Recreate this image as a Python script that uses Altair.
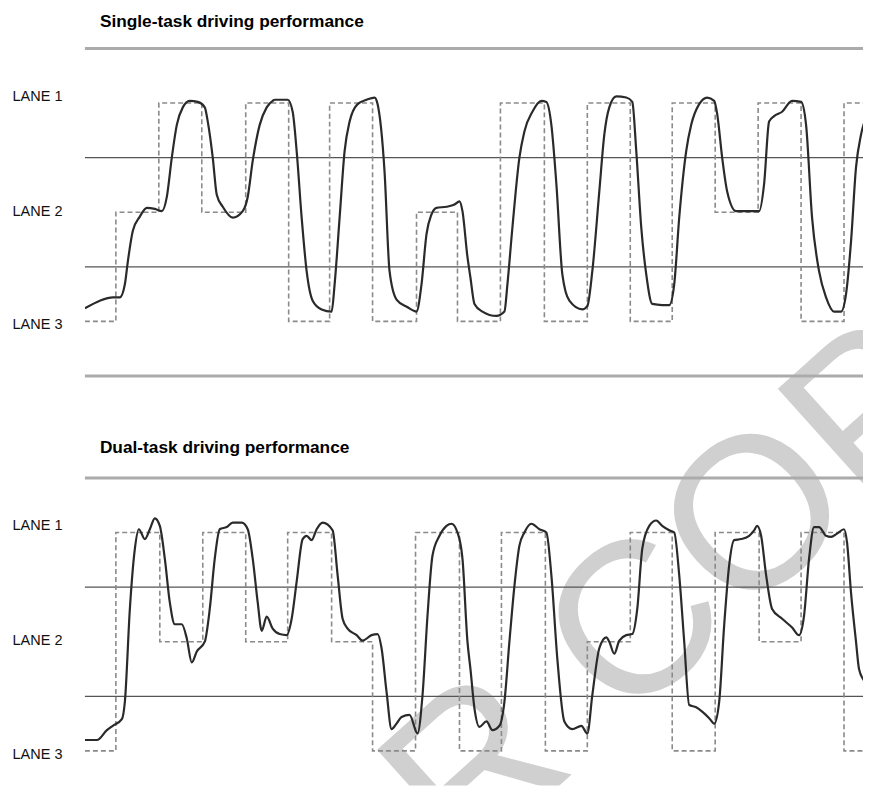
import json
import altair as alt
import pandas as pd

FONT = "Liberation Sans"

# ---- lanes / road layout (lane position units: 1 = Lane 1 ... 3 = Lane 3) ----
LANE_VALUES = [1, 2, 3]
LANE_LABELS = ["LANE 1", "LANE 2", "LANE 3"]
ROAD_EDGES = [0.5, 3.5]
LANE_DIVIDERS = [1.5, 2.5]
TITLES = ["Single-task driving performance", "Dual-task driving performance"]
WATERMARK = "AUTHOR COPY"

# ---- Single task: required lane (dashed), segment start times ----
single_target_t = [0, 31, 74, 117, 161, 204, 245, 288, 332, 373, 416, 460, 503, 546, 588, 631, 674, 717, 760, 788]
single_target_lane = [3, 2, 1, 2, 1, 3, 1, 3, 2, 3, 1, 3, 1, 3, 1, 2, 1, 3, 1, 1]

# ---- Single task: actual lateral position (solid) ----
single_t = [0, 15, 28, 35, 40, 43, 48, 55, 62, 70, 77, 82, 87, 92, 98, 105, 113, 120, 123, 128,
            132, 138, 148, 158, 163, 168, 175, 182, 188, 190, 203, 208, 212, 217, 222, 228, 237, 247, 250, 255,
            260, 265, 273, 282, 290, 293, 300, 305, 312, 323, 332, 337, 342, 347, 352, 362, 370, 375, 378, 383,
            386, 390, 398, 412, 420, 423, 428, 435, 440, 448, 457, 462, 467, 472, 478, 485, 498, 503, 508, 515,
            520, 525, 532, 542, 548, 552, 557, 562, 568, 578, 585, 590, 595, 602, 607, 615, 623, 630, 633, 638,
            643, 652, 665, 675, 680, 685, 690, 698, 708, 717, 722, 728, 735, 742, 750, 757, 762, 767, 772, 777,
            785, 788]
single_pos = [2.88, 2.81, 2.78, 2.78, 2.66, 2.45, 2.17, 2.04, 1.96, 1.97, 1.99, 1.86, 1.50, 1.20, 1.04, 0.98, 0.99, 1.04, 1.17, 1.50,
              1.84, 1.95, 2.05, 1.99, 1.86, 1.53, 1.20, 1.04, 0.98, 0.97, 0.97, 1.08, 1.44, 2.05, 2.54, 2.81, 2.89, 2.91, 2.66, 2.05,
              1.44, 1.17, 1.01, 0.97, 0.95, 1.01, 1.63, 2.54, 2.80, 2.87, 2.91, 2.66, 2.20, 2.02, 1.96, 1.95, 1.93, 1.90, 1.99, 2.41,
              2.60, 2.84, 2.91, 2.95, 2.91, 2.66, 2.14, 1.50, 1.26, 1.08, 0.98, 0.99, 1.20, 1.74, 2.57, 2.81, 2.89, 2.86, 2.54, 1.81,
              1.29, 1.04, 0.94, 0.95, 0.99, 1.44, 2.14, 2.57, 2.84, 2.85, 2.85, 2.66, 2.05, 1.44, 1.20, 1.01, 0.95, 0.98, 1.10, 1.50,
              1.81, 1.99, 1.99, 1.99, 1.74, 1.17, 1.12, 1.08, 0.98, 0.99, 1.20, 2.05, 2.54, 2.78, 2.91, 2.91, 2.75, 2.27, 1.59, 1.29,
              1.08, 1.04]

# ---- Dual task: required lane (dashed) ----
dual_target_t = [0, 31, 75, 118, 161, 203, 247, 288, 331, 375, 417, 461, 503, 546, 588, 631, 675, 717, 760, 788]
dual_target_lane = [3, 1, 2, 1, 2, 1, 2, 3, 1, 3, 1, 3, 2, 1, 3, 1, 2, 1, 3, 3]

# ---- Dual task: actual lateral position (solid) ----
dual_t = [0, 12, 22, 28, 37, 40, 45, 50, 54, 60, 65, 70, 75, 80, 85, 90, 97, 102, 107, 112,
          120, 125, 130, 135, 142, 148, 157, 163, 168, 173, 177, 182, 188, 195, 202, 207, 212, 218, 222, 227,
          232, 238, 248, 253, 258, 263, 272, 278, 287, 293, 297, 302, 307, 312, 317, 325, 333, 338, 343, 348,
          355, 362, 367, 373, 378, 383, 386, 390, 395, 402, 408, 415, 420, 425, 430, 435, 440, 447, 455, 462,
          467, 473, 480, 488, 497, 503, 508, 515, 522, 525, 530, 535, 542, 548, 553, 558, 565, 572, 578, 585,
          590, 595, 600, 605, 612, 618, 625, 630, 635, 640, 645, 650, 657, 665, 670, 673, 677, 682, 688, 698,
          708, 715, 720, 725, 730, 735, 742, 747, 753, 760, 763, 767, 772, 775, 782, 788]
dual_pos = [2.90, 2.90, 2.81, 2.77, 2.71, 2.55, 1.70, 1.15, 0.97, 1.06, 0.97, 0.87, 0.94, 1.24, 1.64, 1.84, 1.84, 1.97, 2.19, 2.09,
            2.00, 1.70, 1.24, 0.97, 0.95, 0.91, 0.91, 0.97, 1.24, 1.64, 1.90, 1.77, 1.88, 1.93, 1.94, 1.79, 1.45, 1.06, 1.03, 1.07,
            0.97, 0.91, 0.98, 1.39, 1.79, 1.88, 1.94, 1.99, 1.94, 1.93, 2.06, 2.46, 2.80, 2.75, 2.69, 2.67, 2.84, 2.49, 1.76, 1.21,
            1.03, 0.94, 0.92, 1.00, 1.24, 2.00, 2.25, 2.61, 2.78, 2.73, 2.81, 2.77, 2.55, 2.00, 1.49, 1.12, 1.00, 0.92, 0.97, 1.00,
            1.39, 2.16, 2.73, 2.80, 2.77, 2.84, 2.49, 2.06, 1.96, 2.00, 2.11, 1.99, 1.94, 1.93, 1.70, 1.15, 0.94, 0.89, 0.94, 0.98,
            1.00, 1.39, 2.00, 2.58, 2.60, 2.64, 2.70, 2.75, 2.55, 1.85, 1.30, 1.07, 1.06, 1.03, 0.98, 0.94, 1.03, 1.39, 1.70, 1.79,
            1.87, 1.94, 1.76, 1.24, 0.95, 0.95, 1.03, 1.04, 1.01, 0.97, 1.09, 1.55, 2.00, 2.25, 2.40, 2.64]

# ---- layout constants (both tracks share one tall plot; dual track is shifted down) ----
PLOT_W = 779
PLOT_H = 738
PX_PER_LANE = 109.33
DUAL_OFFSET = 430 / PX_PER_LANE            # vertical shift of the dual-task track, lane units
LABEL_POS = [0.94, 1.99, 3.03]              # where the LANE labels sit in each track
DUAL_TITLE_POS = DUAL_OFFSET + 0.5 - 30 / PX_PER_LANE
Y_MAX = 0.5 + PLOT_H / PX_PER_LANE
TITLE_SIZE = 17.3

label_values = LABEL_POS + [p + DUAL_OFFSET for p in LABEL_POS]
label_expr = (json.dumps(LANE_LABELS * 2) + "[indexof(" + json.dumps(label_values) + ", datum.value)]")

yscale = alt.Scale(domain=[0.5, Y_MAX], reverse=True, nice=False, zero=False)
xscale = alt.Scale(domain=[0, PLOT_W], nice=False, zero=False)
yaxis = alt.Axis(values=label_values, labelExpr=label_expr, ticks=False, domain=False,
                 grid=False, labelFontSize=14.5, labelFont=FONT, labelColor="#111111",
                 labelPadding=23, minExtent=77, maxExtent=77, title=None)


def two_tracks(a, b, col):
    return pd.DataFrame({col: list(a) + list(b), "track": [0] * len(a) + [1] * len(b)})


roads_df = two_tracks(ROAD_EDGES, ROAD_EDGES, "pos")
div_df = two_tracks(LANE_DIVIDERS, LANE_DIVIDERS, "pos")
target_df = pd.DataFrame({
    "t": single_target_t + dual_target_t,
    "pos": single_target_lane + dual_target_lane,
    "track": [0] * len(single_target_t) + [1] * len(dual_target_t)})
trace_df = pd.DataFrame({
    "t": single_t + dual_t,
    "pos": single_pos + dual_pos,
    "track": [0] * len(single_t) + [1] * len(dual_t)})

shift = f"datum.pos + datum.track * {DUAL_OFFSET}"

watermark = (alt.Chart(pd.DataFrame({"txt": [WATERMARK]}))
             .mark_text(font=FONT, fontSize=216, angle=318, align="center", baseline="middle",
                        color="#d0d0d0", clip=True)
             .encode(text="txt:N", x=alt.value(362), y=alt.value(752)))

roads = (alt.Chart(roads_df)
         .transform_calculate(y=shift)
         .transform_filter(f"datum.y <= {Y_MAX}")
         .mark_rule(color="#ababab", strokeWidth=3)
         .encode(y=alt.Y("y:Q", scale=yscale, axis=yaxis)))

dividers = (alt.Chart(div_df)
            .transform_calculate(y=shift)
            .mark_rule(color="#555555", strokeWidth=1.2)
            .encode(y=alt.Y("y:Q", scale=yscale, axis=yaxis)))

target = (alt.Chart(target_df)
          .transform_calculate(y=shift)
          .mark_line(interpolate="step-after", strokeDash=[5, 3], color="#8a8a8a",
                     strokeWidth=1.6, clip=True)
          .encode(x=alt.X("t:Q", scale=xscale, axis=None),
                  y=alt.Y("y:Q", scale=yscale, axis=yaxis),
                  detail="track:N"))

trace = (alt.Chart(trace_df)
         .transform_calculate(y=shift)
         .mark_line(interpolate="monotone", color="#2a2a2a", strokeWidth=2.2, clip=True)
         .encode(x=alt.X("t:Q", scale=xscale, axis=None),
                 y=alt.Y("y:Q", scale=yscale, axis=yaxis),
                 detail="track:N"))

dual_title = (alt.Chart(pd.DataFrame({"txt": [TITLES[1]], "y": [DUAL_TITLE_POS]}))
              .mark_text(font=FONT, fontSize=TITLE_SIZE, fontWeight="bold", align="left",
                         baseline="middle", color="#000000", dx=15)
              .encode(text="txt:N", x=alt.value(0),
                      y=alt.Y("y:Q", scale=yscale, axis=yaxis)))

chart = (alt.layer(watermark, roads, dividers, target, trace, dual_title)
         .properties(width=PLOT_W, height=PLOT_H,
                     padding={"left": 0, "top": 4, "right": 0, "bottom": 0},
                     title=alt.TitleParams(TITLES[0], anchor="start", frame="group", fontSize=TITLE_SIZE,
                                           fontWeight="bold", font=FONT, color="#000000",
                                           dx=15, offset=17))
         .configure_view(stroke=None))

chart.save("out.html", embed_options={"renderer": "svg", "actions": False})
